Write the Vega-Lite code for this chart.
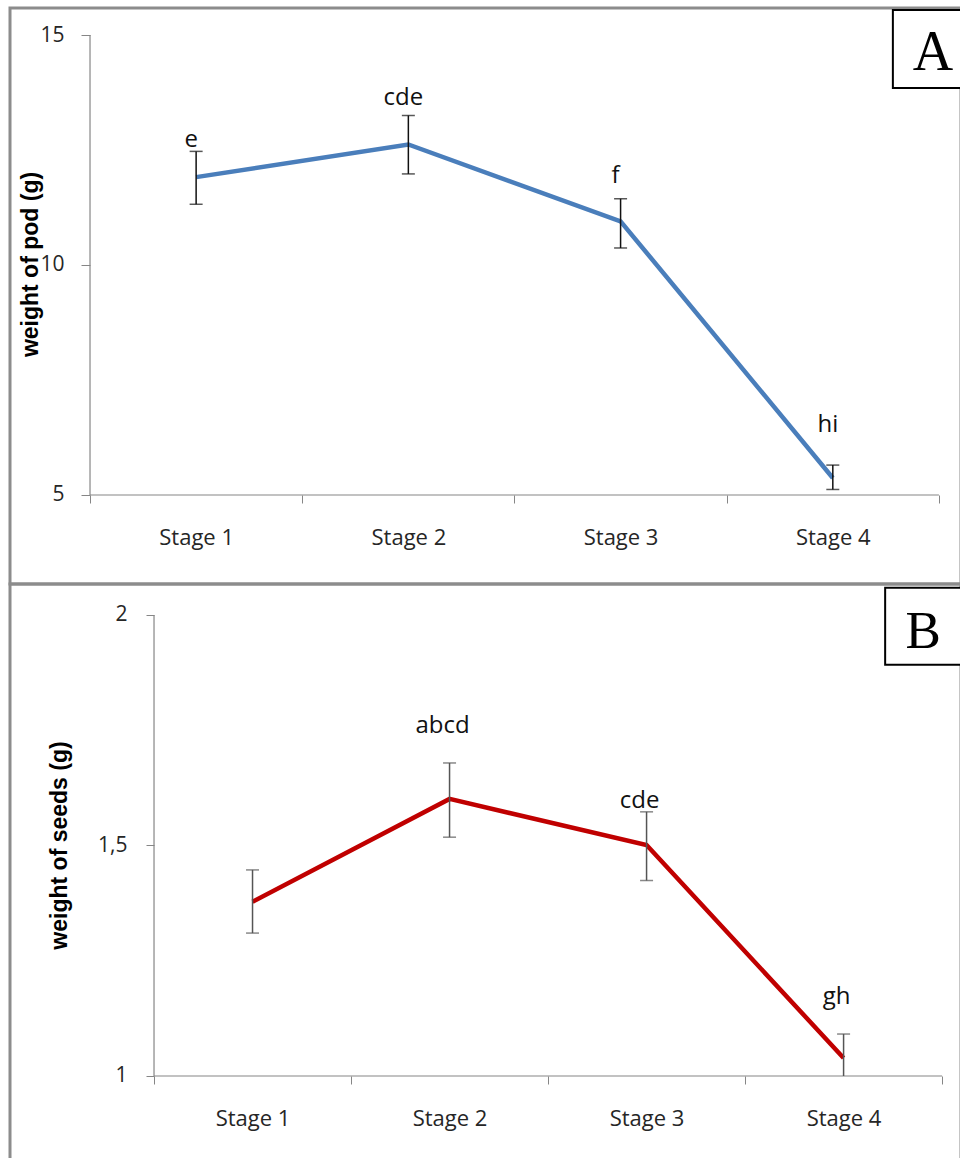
{
  "$schema": "https://vega.github.io/schema/vega-lite/v6.json",
  "background": "white",
  "padding": {"left": 8, "top": 6, "right": 0, "bottom": 0},
  "spacing": 0,
  "bounds": "flush",
  "config": {
    "view": {"stroke": "#8c8c8c", "strokeWidth": 3},
    "axis": {"grid": false, "domain": false}
  },
  "datasets": {
    "pod": [
      {"stage": 1, "mean": 11.91, "lo": 11.32, "hi": 12.47, "letter": "e", "labelValue": 12.56},
      {"stage": 2, "mean": 12.62, "lo": 11.98, "hi": 13.25, "letter": "cde", "labelValue": 13.48},
      {"stage": 3, "mean": 10.95, "lo": 10.37, "hi": 11.44, "letter": "f", "labelValue": 11.78},
      {"stage": 4, "mean": 5.37, "lo": 5.12, "hi": 5.65, "letter": "hi", "labelValue": 6.37}
    ],
    "seeds": [
      {"stage": 1, "mean": 1.378, "lo": 1.31, "hi": 1.447, "letter": "", "labelValue": 1.5},
      {"stage": 2, "mean": 1.601, "lo": 1.518, "hi": 1.679, "letter": "abcd", "labelValue": 1.744},
      {"stage": 3, "mean": 1.501, "lo": 1.424, "hi": 1.573, "letter": "cde", "labelValue": 1.581},
      {"stage": 4, "mean": 1.039, "lo": 1.0, "hi": 1.091, "letter": "gh", "labelValue": 1.156}
    ],
    "podFrame": [
      {"axisStart": 0.5, "axisEnd": 4.5, "yMin": 5, "yMax": 15, "boxX": 4.283, "boxX2": 4.7, "boxY": 15.543, "boxY2": 13.848, "textX": 4.472, "textY": 14.239, "panel": "A"}
    ],
    "seedFrame": [
      {"axisStart": 0.5, "axisEnd": 4.5, "yMin": 1, "yMax": 2, "boxX": 4.211, "boxX2": 4.7, "boxY": 2.059, "boxY2": 1.892, "textX": 4.404, "textY": 1.928, "panel": "B"}
    ]
  },
  "vconcat": [
    {
      "width": 951,
      "height": 576,
      "layer": [
        {
          "data": {"name": "pod"},
          "mark": {"type": "line", "color": "#4a7ebb", "strokeWidth": 4.5},
          "encoding": {
            "x": {
              "field": "stage", "type": "quantitative", "title": null,
              "scale": {"domain": [0.123, 4.604], "nice": false, "zero": false},
              "axis": {
                "values": [0.5, 1, 1.5, 2, 2.5, 3, 3.5, 4, 4.5],
                "offset": -89, "tickSize": 8, "tickColor": "#868686", "tickWidth": 1,
                "tickOpacity": {"condition": {"test": "datum.value % 1 === 0", "value": 0}, "value": 1},
                "labelExpr": "datum.value % 1 === 0 ? 'Stage ' + datum.value : ''",
                "labelFont": "Open Sans", "labelFontSize": 22, "labelColor": "#262626",
                "labelPadding": 24, "labelOverlap": false, "labelFlush": false, "labelBound": false
              }
            },
            "y": {
              "field": "mean", "type": "quantitative", "title": "weight of pod (g)",
              "scale": {"domain": [3.065, 15.587], "nice": false, "zero": false},
              "axis": {
                "values": [5, 10, 15], "offset": -80, "tickSize": 9, "tickColor": "#868686",
                "labelExpr": "format(datum.value, '')",
                "labelFont": "Open Sans", "labelFontSize": 21, "labelColor": "#262626",
                "labelPadding": 17, "labelOverlap": false, "labelFlush": false,
                "titleFont": "Liberation Sans", "titleFontWeight": "bold", "titleFontSize": 23,
                "titleColor": "#000000", "titleX": -60, "titleY": 256, "titleBaseline": "middle"
              }
            }
          }
        },
        {
          "data": {"name": "podFrame"},
          "mark": {"type": "rule", "color": "#868686", "strokeWidth": 1.2},
          "encoding": {
            "x": {"field": "axisStart", "type": "quantitative"},
            "y": {"field": "yMin", "type": "quantitative"},
            "y2": {"field": "yMax"}
          }
        },
        {
          "data": {"name": "podFrame"},
          "mark": {"type": "rule", "color": "#868686", "strokeWidth": 1.2},
          "encoding": {
            "x": {"field": "axisStart", "type": "quantitative"},
            "x2": {"field": "axisEnd"},
            "y": {"field": "yMin", "type": "quantitative"}
          }
        },
        {
          "data": {"name": "pod"},
          "mark": {"type": "rule", "color": "#111111", "strokeWidth": 1.5},
          "encoding": {
            "x": {"field": "stage", "type": "quantitative"},
            "y": {"field": "lo", "type": "quantitative"},
            "y2": {"field": "hi"}
          }
        },
        {
          "data": {"name": "pod"},
          "mark": {"type": "tick", "orient": "horizontal", "size": 13, "thickness": 1.5, "color": "#111111"},
          "encoding": {
            "x": {"field": "stage", "type": "quantitative"},
            "y": {"field": "hi", "type": "quantitative"}
          }
        },
        {
          "data": {"name": "pod"},
          "mark": {"type": "tick", "orient": "horizontal", "size": 13, "thickness": 1.5, "color": "#111111"},
          "encoding": {
            "x": {"field": "stage", "type": "quantitative"},
            "y": {"field": "lo", "type": "quantitative"}
          }
        },
        {
          "data": {"name": "pod"},
          "mark": {"type": "text", "font": "Open Sans", "fontSize": 24, "color": "#111111", "baseline": "alphabetic", "align": "center", "dx": -5},
          "encoding": {
            "x": {"field": "stage", "type": "quantitative"},
            "y": {"field": "labelValue", "type": "quantitative"},
            "text": {"field": "letter"}
          }
        },
        {
          "data": {"name": "podFrame"},
          "mark": {"type": "rect", "fill": "white", "stroke": "#000000", "strokeWidth": 2, "clip": true},
          "encoding": {
            "x": {"field": "boxX", "type": "quantitative"},
            "x2": {"field": "boxX2"},
            "y": {"field": "boxY", "type": "quantitative"},
            "y2": {"field": "boxY2"}
          }
        },
        {
          "data": {"name": "podFrame"},
          "mark": {"type": "text", "font": "Liberation Serif", "fontSize": 56, "color": "#000000", "baseline": "alphabetic", "align": "center"},
          "encoding": {
            "x": {"field": "textX", "type": "quantitative"},
            "y": {"field": "textY", "type": "quantitative"},
            "text": {"field": "panel"}
          }
        }
      ]
    },
    {
      "width": 951,
      "height": 577,
      "layer": [
        {
          "data": {"name": "seeds"},
          "mark": {"type": "line", "color": "#c00000", "strokeWidth": 4.5},
          "encoding": {
            "x": {
              "field": "stage", "type": "quantitative", "title": null,
              "scale": {"domain": [-0.231, 4.596], "nice": false, "zero": false},
              "axis": {
                "values": [0.5, 1, 1.5, 2, 2.5, 3, 3.5, 4, 4.5],
                "offset": -85, "tickSize": 8, "tickColor": "#868686", "tickWidth": 1,
                "tickOpacity": {"condition": {"test": "datum.value % 1 === 0", "value": 0}, "value": 1},
                "labelExpr": "datum.value % 1 === 0 ? 'Stage ' + datum.value : ''",
                "labelFont": "Open Sans", "labelFontSize": 22, "labelColor": "#262626",
                "labelPadding": 24, "labelOverlap": false, "labelFlush": false, "labelBound": false
              }
            },
            "y": {
              "field": "mean", "type": "quantitative", "title": "weight of seeds (g)",
              "scale": {"domain": [0.8156, 2.0672], "nice": false, "zero": false},
              "axis": {
                "values": [1, 1.5, 2], "offset": -144, "tickSize": 8, "tickColor": "#868686",
                "labelExpr": "replace(format(datum.value, ''), '.', ',')",
                "labelFont": "Open Sans", "labelFontSize": 21, "labelColor": "#262626",
                "labelPadding": 19, "labelOverlap": false, "labelFlush": false,
                "titleFont": "Liberation Sans", "titleFontWeight": "bold", "titleFontSize": 23,
                "titleColor": "#000000", "titleX": -95, "titleY": 261, "titleBaseline": "middle"
              }
            }
          }
        },
        {
          "data": {"name": "seedFrame"},
          "mark": {"type": "rule", "color": "#868686", "strokeWidth": 1.2},
          "encoding": {
            "x": {"field": "axisStart", "type": "quantitative"},
            "y": {"field": "yMin", "type": "quantitative"},
            "y2": {"field": "yMax"}
          }
        },
        {
          "data": {"name": "seedFrame"},
          "mark": {"type": "rule", "color": "#868686", "strokeWidth": 1.2},
          "encoding": {
            "x": {"field": "axisStart", "type": "quantitative"},
            "x2": {"field": "axisEnd"},
            "y": {"field": "yMin", "type": "quantitative"}
          }
        },
        {
          "data": {"name": "seeds"},
          "mark": {"type": "rule", "color": "#555555", "strokeWidth": 1.5},
          "encoding": {
            "x": {"field": "stage", "type": "quantitative"},
            "y": {"field": "lo", "type": "quantitative"},
            "y2": {"field": "hi"}
          }
        },
        {
          "data": {"name": "seeds"},
          "mark": {"type": "tick", "orient": "horizontal", "size": 13, "thickness": 1.5, "color": "#555555"},
          "encoding": {
            "x": {"field": "stage", "type": "quantitative"},
            "y": {"field": "hi", "type": "quantitative"}
          }
        },
        {
          "data": {"name": "seeds"},
          "transform": [{"filter": "datum.lo > 1"}],
          "mark": {"type": "tick", "orient": "horizontal", "size": 13, "thickness": 1.5, "color": "#555555"},
          "encoding": {
            "x": {"field": "stage", "type": "quantitative"},
            "y": {"field": "lo", "type": "quantitative"}
          }
        },
        {
          "data": {"name": "seeds"},
          "transform": [{"filter": "datum.letter != ''"}],
          "mark": {"type": "text", "font": "Open Sans", "fontSize": 24, "color": "#111111", "baseline": "alphabetic", "align": "center", "dx": -7},
          "encoding": {
            "x": {"field": "stage", "type": "quantitative"},
            "y": {"field": "labelValue", "type": "quantitative"},
            "text": {"field": "letter"}
          }
        },
        {
          "data": {"name": "seedFrame"},
          "mark": {"type": "rect", "fill": "white", "stroke": "#000000", "strokeWidth": 2, "clip": true},
          "encoding": {
            "x": {"field": "boxX", "type": "quantitative"},
            "x2": {"field": "boxX2"},
            "y": {"field": "boxY", "type": "quantitative"},
            "y2": {"field": "boxY2"}
          }
        },
        {
          "data": {"name": "seedFrame"},
          "mark": {"type": "text", "font": "Liberation Serif", "fontSize": 53, "color": "#000000", "baseline": "alphabetic", "align": "center"},
          "encoding": {
            "x": {"field": "textX", "type": "quantitative"},
            "y": {"field": "textY", "type": "quantitative"},
            "text": {"field": "panel"}
          }
        }
      ]
    }
  ]
}
